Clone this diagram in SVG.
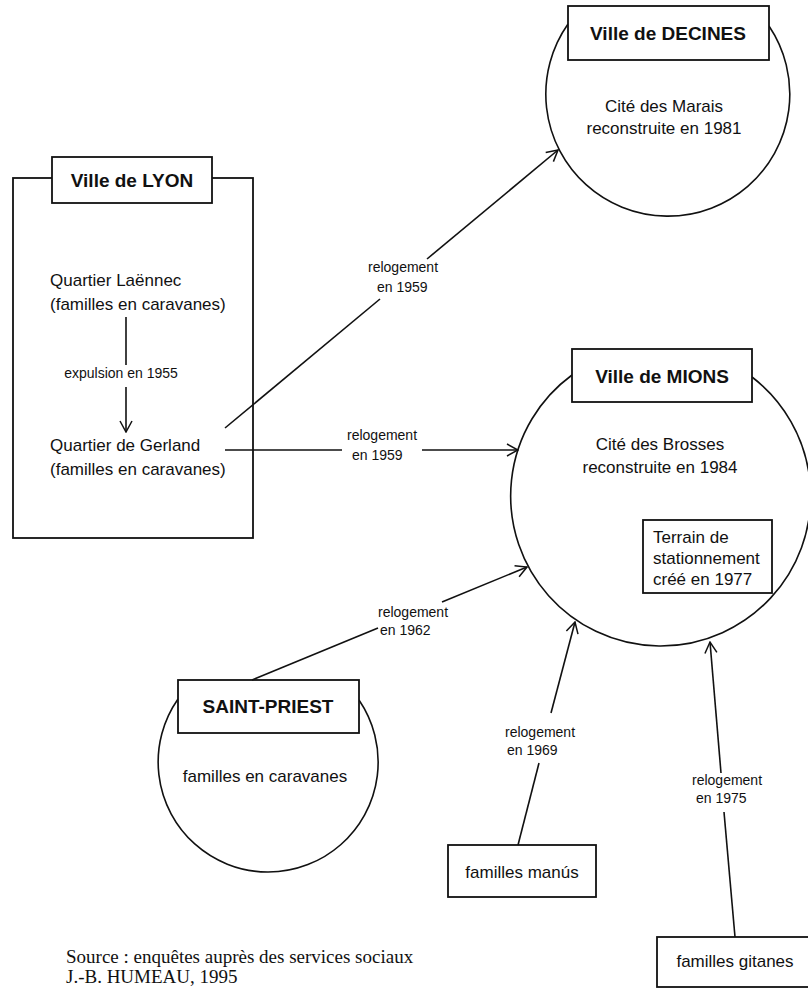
<svg xmlns="http://www.w3.org/2000/svg" width="808" height="989" viewBox="0 0 808 989">
<defs>
<marker id="arr" viewBox="-1 -7 13 14" refX="11" refY="0" markerWidth="13" markerHeight="14" markerUnits="userSpaceOnUse" orient="auto">
<path d="M0,-6 L11,0 L0,6" fill="none" stroke="#111" stroke-width="1.5"/>
</marker>
</defs>
<style>
.ln{stroke:#111;stroke-width:1.6;fill:none}
.bx{stroke:#111;stroke-width:1.8;fill:#fff}
.ci{stroke:#111;stroke-width:1.6;fill:none}
.t{font-family:"Liberation Sans",Arial,sans-serif;font-size:17px;fill:#111}
.b{font-family:"Liberation Sans",Arial,sans-serif;font-size:19px;font-weight:bold;fill:#111}
.s{font-family:"Liberation Sans",Arial,sans-serif;font-size:14px;fill:#111}
.src{font-family:"Liberation Serif","Times New Roman",serif;font-size:19px;fill:#111}
.m{text-anchor:middle}
</style>
<rect width="808" height="989" fill="#fff"/>

<g id="lyon">
<rect class="bx" x="13" y="178" width="240" height="360"/>
<rect class="bx" x="52" y="157" width="160" height="46"/>
<text class="b m" x="132" y="187">Ville de LYON</text>
<text class="t" x="50" y="286">Quartier Laënnec</text>
<text class="t" x="50" y="310">(familles en caravanes)</text>
<text class="t" x="50" y="451">Quartier de Gerland</text>
<text class="t" x="50" y="475">(familles en caravanes)</text>
</g>

<g id="decines">
<path class="ci" d="M568,24 A122,122 0 1,0 769,26"/>
<rect class="bx" x="568" y="6" width="201" height="54"/>
<text class="b m" x="668" y="40">Ville de DECINES</text>
<text class="t m" x="664" y="112">Cité des Marais</text>
<text class="t m" x="664" y="134">reconstruite en 1981</text>
</g>

<g id="mions">
<path class="ci" d="M572,375 A150,150 0 1,0 752,377"/>
<rect class="bx" x="572" y="349" width="180" height="53"/>
<text class="b m" x="662" y="383">Ville de MIONS</text>
<text class="t m" x="660" y="450">Cité des Brosses</text>
<text class="t m" x="660" y="473">reconstruite en 1984</text>
</g>

<g id="terrain">
<rect class="bx" x="643" y="520" width="129" height="73"/>
<text class="t" x="653" y="543">Terrain de</text>
<text class="t" x="653" y="564">stationnement</text>
<text class="t" x="653" y="585">créé en 1977</text>
</g>

<g id="saint-priest">
<path class="ci" d="M178,699 A110,110 0 1,0 359,700"/>
<rect class="bx" x="178" y="680" width="181" height="53"/>
<text class="b m" x="268" y="713">SAINT-PRIEST</text>
<text class="t m" x="265" y="782">familles en caravanes</text>
</g>

<g id="manus">
<rect class="bx" x="448" y="845" width="148" height="52"/>
<text class="t m" x="522" y="878">familles manús</text>
</g>

<g id="gitanes">
<rect class="bx" x="657" y="937" width="152" height="50"/>
<text class="t m" x="735" y="967">familles gitanes</text>
</g>

<g id="connectors">
<line class="ln" x1="126" y1="317" x2="126" y2="365"/>
<line class="ln" x1="126" y1="387" x2="126" y2="432" marker-end="url(#arr)"/>
<text class="s m" x="121" y="378">expulsion en 1955</text>

<line class="ln" x1="225" y1="428" x2="380" y2="299"/>
<line class="ln" x1="427" y1="259" x2="558" y2="150" marker-end="url(#arr)"/>
<text class="s" x="368" y="272">relogement</text>
<text class="s" x="377" y="292">en 1959</text>

<line class="ln" x1="225" y1="450" x2="342" y2="450"/>
<line class="ln" x1="422" y1="450" x2="518" y2="450" marker-end="url(#arr)"/>
<text class="s" x="347" y="440">relogement</text>
<text class="s" x="352" y="460">en 1959</text>

<line class="ln" x1="252" y1="680" x2="378" y2="628"/>
<line class="ln" x1="442" y1="602" x2="527" y2="567" marker-end="url(#arr)"/>
<text class="s" x="378" y="617">relogement</text>
<text class="s" x="380" y="635">en 1962</text>

<line class="ln" x1="518" y1="845" x2="539" y2="763"/>
<line class="ln" x1="551" y1="713" x2="575" y2="622" marker-end="url(#arr)"/>
<text class="s" x="505" y="737">relogement</text>
<text class="s" x="507" y="755">en 1969</text>

<line class="ln" x1="735" y1="937" x2="724" y2="812"/>
<line class="ln" x1="721" y1="773" x2="710" y2="642" marker-end="url(#arr)"/>
<text class="s" x="692" y="785">relogement</text>
<text class="s" x="696" y="803">en 1975</text>
</g>

<text class="src" x="66" y="963">Source : enquêtes auprès des services sociaux</text>
<text class="src" x="66" y="983">J.-B. HUMEAU, 1995</text>
</svg>
